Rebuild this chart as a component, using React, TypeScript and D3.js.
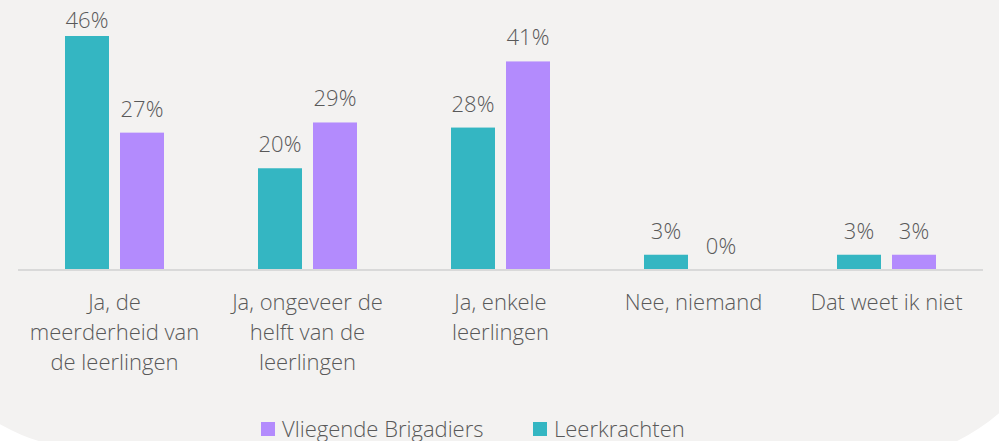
import React, { useEffect, useRef } from "react";
import * as d3 from "d3";

const categories = [
  "Ja, de meerderheid van de leerlingen",
  "Ja, ongeveer de helft van de leerlingen",
  "Ja, enkele leerlingen",
  "Nee, niemand",
  "Dat weet ik niet",
];
const seriesNames = ["Leerkrachten", "Vliegende Brigadiers"];
const leerkrachten = [46, 20, 28, 3, 3];
const vliegendeBrigadiers = [27, 29, 41, 0, 3];
const legendOrder = ["Vliegende Brigadiers", "Leerkrachten"];

const W = 999;
const H = 441;
const FONT = "'Open Sans', sans-serif";
const FS = 22;
const FW = 350;
const TEXT = "#595959";
const colors: Record<string, string> = {
  Leerkrachten: "#34b6c2",
  "Vliegende Brigadiers": "#b38bfd",
};

function wrap(text: string, maxW: number, font: string): string[] {
  const ctx = document.createElement("canvas").getContext("2d")!;
  ctx.font = font;
  const words = text.split(" ");
  const lines: string[] = [];
  let cur = "";
  for (const w of words) {
    const t = cur ? cur + " " + w : w;
    if (ctx.measureText(t).width > maxW && cur) {
      lines.push(cur);
      cur = w;
    } else cur = t;
  }
  if (cur) lines.push(cur);
  return lines;
}

export default function App() {
  const ref = useRef<SVGSVGElement>(null);
  useEffect(() => {
    const svg = d3.select(ref.current!);
    svg.selectAll("*").remove();

    svg.append("rect").attr("width", W).attr("height", H).attr("fill", "#ffffff");
    svg
      .append("path")
      .attr(
        "d",
        "M -102 -10 L -102 250 A 200 200 0 0 0 97.5 450 L 868 462 A 200 200 0 0 0 1068 262 L 1068 -10 Z"
      )
      .attr("fill", "#f3f2f1");

    const x0 = d3.scaleBand<string>().domain(categories).range([18, 983]);
    const y = d3.scaleLinear().domain([0, 46]).range([270, 36]);
    const values: Record<string, number[]> = {
      Leerkrachten: leerkrachten,
      "Vliegende Brigadiers": vliegendeBrigadiers,
    };

    svg
      .append("line")
      .attr("x1", 18)
      .attr("x2", 983)
      .attr("y1", 270)
      .attr("y2", 270)
      .attr("stroke", "#d9d9d9")
      .attr("stroke-width", 2);

    categories.forEach((c, i) => {
      const cx = x0(c)! + x0.bandwidth() / 2;
      const x1 = d3
        .scaleBand<string>()
        .domain(seriesNames)
        .range([cx - 49.5, cx + 49.5])
        .paddingInner(0.2);
      seriesNames.forEach((s) => {
        const v = values[s][i];
        const yt = y(v);
        if (v > 0) {
          svg
            .append("rect")
            .attr("x", x1(s)!)
            .attr("y", yt)
            .attr("width", x1.bandwidth())
            .attr("height", 269 - yt)
            .attr("fill", colors[s]);
        }
        svg
          .append("text")
          .attr("x", x1(s)! + x1.bandwidth() / 2)
          .attr("y", Math.max(yt - 16, 28))
          .attr("text-anchor", "middle")
          .attr("font-family", FONT)
          .attr("font-size", FS)
          .attr("font-weight", FW)
          .attr("fill", TEXT)
          .text(v + "%");
      });
      const lines = wrap(c, 180, `${FW} ${FS}px ${FONT}`);
      const t = svg
        .append("text")
        .attr("text-anchor", "middle")
        .attr("font-family", FONT)
        .attr("font-size", FS)
        .attr("font-weight", FW)
        .attr("fill", TEXT);
      lines.forEach((ln, k) => {
        t.append("tspan").attr("x", cx).attr("y", 310 + k * 30).text(ln);
      });
    });

    const legendX = [261, 533];
    legendOrder.forEach((s, i) => {
      svg
        .append("rect")
        .attr("x", legendX[i])
        .attr("y", 422)
        .attr("width", 14)
        .attr("height", 14)
        .attr("fill", colors[s]);
      svg
        .append("text")
        .attr("x", legendX[i] + 21)
        .attr("y", 437)
        .attr("font-family", FONT)
        .attr("font-size", FS)
        .attr("font-weight", FW)
        .attr("fill", TEXT)
        .text(s);
    });
  }, []);
  return (
    <svg
      ref={ref}
      width={W}
      height={H}
      style={{ position: "absolute", left: 0, top: 0, display: "block" }}
    />
  );
}
